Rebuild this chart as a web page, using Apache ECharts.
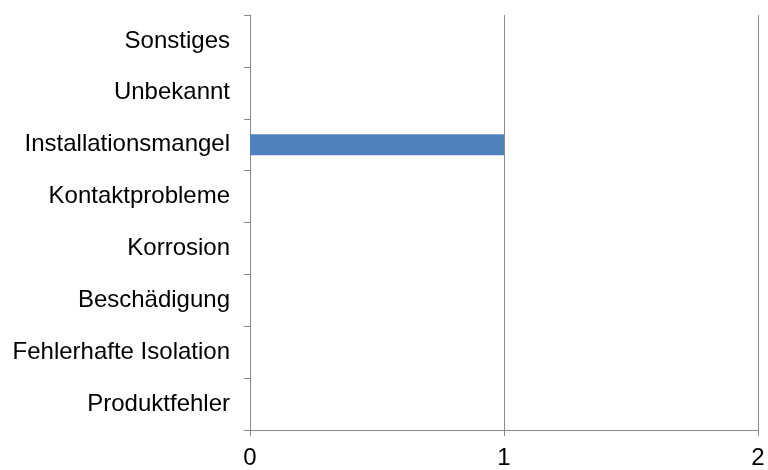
<!DOCTYPE html>
<html>
<head>
<meta charset="utf-8">
<script src="https://cdn.jsdelivr.net/npm/echarts@6/dist/echarts.min.js"></script>
<style>
  html, body { margin: 0; padding: 0; background: #fff; }
  #chart { width: 768px; height: 470px; }
</style>
</head>
<body>
<div id="chart"></div>
<script>
// Fault categories, listed bottom to top
const categories = [
  'Produktfehler',
  'Fehlerhafte Isolation',
  'Beschädigung',
  'Korrosion',
  'Kontaktprobleme',
  'Installationsmangel',
  'Unbekannt',
  'Sonstiges'
];
// Number of cases per category
const counts = [0, 0, 0, 0, 0, 1, 0, 0];
// Value axis ticks
const xTicks = [0, 1, 2];

const chart = echarts.init(document.getElementById('chart'), null, { renderer: 'canvas' });
const font = 'Liberation Sans, Arial, sans-serif';
const gray = '#898989';

chart.setOption({
  animation: false,
  grid: { left: 250, right: 10, top: 15, bottom: 40, containLabel: false },
  xAxis: {
    type: 'value',
    min: xTicks[0],
    max: xTicks[xTicks.length - 1],
    interval: 1,
    axisLine: { show: true, lineStyle: { color: gray, width: 1 } },
    axisTick: { show: true, length: 6, lineStyle: { color: gray } },
    splitLine: { show: true, lineStyle: { color: gray, width: 1 } },
    axisLabel: { color: '#000', fontFamily: font, fontSize: 24, margin: 16 }
  },
  yAxis: {
    type: 'category',
    data: categories,
    axisLine: { show: true, lineStyle: { color: gray, width: 1 } },
    axisTick: { show: true, length: 6, lineStyle: { color: gray } },
    axisLabel: { color: '#000', fontFamily: font, fontSize: 24, margin: 20, padding: [2, 0, 0, 0] }
  },
  series: [{
    type: 'bar',
    data: counts,
    barWidth: 21,
    itemStyle: { color: '#4F81BD' }
  }]
});
</script>
</body>
</html>
